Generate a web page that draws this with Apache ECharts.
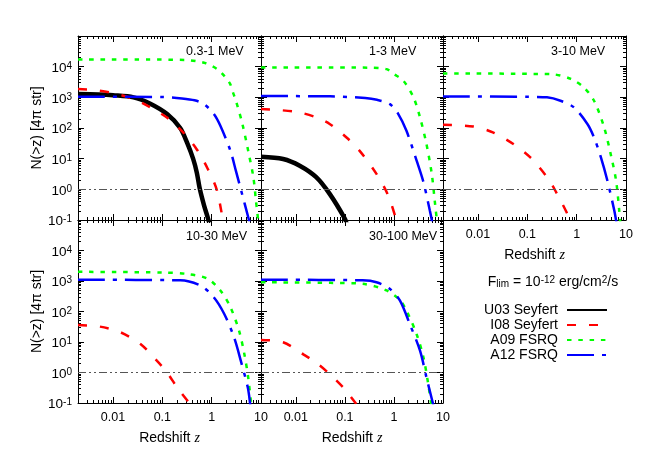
<!DOCTYPE html>
<html><head><meta charset="utf-8">
<script src="https://cdn.jsdelivr.net/npm/echarts@6/dist/echarts.min.js"></script>
<style>html,body{margin:0;padding:0;background:#fff}#c{width:654px;height:458px}</style>
</head><body><div id="c"></div>
<script>
// ---------- data ----------
const panelNames = ['0.3-1 MeV', '1-3 MeV', '3-10 MeV', '10-30 MeV', '30-100 MeV'];
const seriesNames = ['U03 Seyfert', 'I08 Seyfert', 'A09 FSRQ', 'A12 FSRQ'];
const xTickLabels = [0.01, 0.1, 1, 10];
const yTickLabels = [0.1, 1, 10, 100, 1000, 10000];

// [redshift z, N(>z)]
const u03_p1 = [[0.00195,1280],[0.005,1240],[0.01,1170],[0.026,1000],[0.057,620],[0.125,285],[0.23,100],[0.32,32],[0.42,10],[0.5,3.5],[0.57,1.1],[0.7,0.3],[0.86,0.1],[0.92,0.06]];
const i08_p1 = [[0.00195,1860],[0.004,1740],[0.0087,1445],[0.026,890],[0.056,480],[0.126,214],[0.25,79],[0.5,20],[0.83,4.7],[1.26,1],[1.7,0.1],[1.85,0.06]];
const a09_p1 = [[0.00195,17000],[0.05,17000],[0.3,16500],[0.5,15000],[0.75,13000],[1.3,8300],[1.8,5000],[2.35,2800],[2.7,1450],[3.1,780],[4.2,135],[5.5,18],[7.0,2.5],[7.9,0.43],[9.0,0.07]];
const a12_p1 = [[0.00195,1050],[0.1,1020],[0.25,920],[0.45,800],[0.7,600],[1.1,290],[1.5,118],[2.4,18],[3.1,4],[3.9,1],[5.7,0.1],[6.0,0.07]];

const u03_p2 = [[0.00195,11.6],[0.0055,9.8],[0.012,5.9],[0.026,2.5],[0.049,0.71],[0.1,0.11],[0.11,0.07]];
const i08_p2 = [[0.00195,415],[0.005,380],[0.012,320],[0.026,222],[0.049,135],[0.108,49],[0.2,18],[0.44,3.2],[0.74,0.71],[1.1,0.11],[1.17,0.07]];
const a09_p2 = [[0.00195,9400],[0.3,9300],[0.71,8300],[1.0,5700],[1.55,3500],[2.5,1000],[3.4,222],[4.6,30],[5.9,3.2],[6.9,0.33],[7.5,0.1],[7.8,0.06]];
const a12_p2 = [[0.00195,1100],[0.05,1080],[0.26,950],[0.45,830],[0.83,600],[1.22,290],[1.8,81],[2.9,8.6],[4.0,1.7],[5.4,0.2],[5.9,0.1],[6.1,0.06]];

const i08_p3 = [[0.00195,128],[0.008,112],[0.02,72],[0.052,30],[0.115,11],[0.25,2.5],[0.37,0.9],[0.7,0.12],[0.75,0.07]];
const a09_p3 = [[0.00195,6000],[0.3,5700],[0.76,4000],[1.4,2100],[2.25,775],[3.6,105],[4.9,14],[6.3,1.9],[7.3,0.2],[7.7,0.07]];
const a12_p3 = [[0.00195,1070],[0.1,1040],[0.25,1000],[0.47,775],[0.88,470],[1.65,135],[2.25,49],[3.1,11],[4.2,1.9],[5.8,0.2],[6.5,0.07]];

const i08_p4 = [[0.00195,36],[0.0054,32],[0.014,21],[0.036,8.6],[0.078,2.4],[0.125,1],[0.2,0.32],[0.35,0.1],[0.4,0.07]];
const a09_p4 = [[0.00195,2000],[0.1,1900],[0.32,1700],[0.82,1200],[1.5,490],[2.4,138],[3.6,23],[4.6,4],[5.5,0.69],[6.3,0.1],[6.6,0.06]];
const a12_p4 = [[0.00195,1100],[0.23,1050],[0.6,700],[1.1,295],[1.8,83],[2.85,14],[3.9,2.4],[5.4,0.32],[6.0,0.1],[6.2,0.06]];

const i08_p5 = [[0.00195,11.7],[0.0055,9.8],[0.014,4],[0.026,2.1],[0.049,0.89],[0.093,0.32],[0.165,0.1],[0.19,0.07]];
const a09_p5 = [[0.00195,910],[0.05,870],[0.23,810],[0.71,490],[1.32,240],[1.8,107],[2.9,18],[4.0,3.1],[5.0,0.42],[5.7,0.1],[6.0,0.06]];
const a12_p5 = [[0.00195,1100],[0.23,1050],[0.44,910],[0.83,550],[1.32,230],[2.1,39],[3.4,5.2],[4.6,0.69],[6.2,0.1],[6.5,0.07]];

const limitLevel = 1;

// ---------- layout / style ----------
const FONT = 'Liberation Sans, Arial, sans-serif';
const X_MIN = 0.00195, X_MAX = 10.0001, Y_MIN = 0.09999, Y_MAX = 100010;
const grids = [
  {left: 78,  top: 36,  width: 183, height: 184},
  {left: 261, top: 36,  width: 182, height: 184},
  {left: 443, top: 36,  width: 183, height: 184},
  {left: 78,  top: 220, width: 183, height: 183},
  {left: 261, top: 220, width: 182, height: 183}
];
const panels = [
  [u03_p1, i08_p1, a09_p1, a12_p1],
  [u03_p2, i08_p2, a09_p2, a12_p2],
  [null,   i08_p3, a09_p3, a12_p3],
  [null,   i08_p4, a09_p4, a12_p4],
  [null,   i08_p5, a09_p5, a12_p5]
];
const styles = [
  {color: '#000000', width: 4.5, type: 'solid'},
  {color: '#ff0000', width: 2.5, type: [9, 13]},
  {color: '#00ff00', width: 2.5, type: [4.5, 6.8]},
  {color: '#0000ff', width: 2.5, type: [27, 8, 4, 8]}
];
const showXLabels = [false, false, true, true, true];
const showYLabels = [true, false, false, true, false];

function decadeTicks(lo, hi, minor) {
  const out = [];
  for (let e = -4; e <= 6; e++) {
    const ks = minor ? [2,3,4,5,6,7,8,9] : [1];
    for (const k of ks) {
      const v = +(k * Math.pow(10, e)).toPrecision(4);
      if (v >= lo && v <= hi) out.push(v);
    }
  }
  return out;
}
const xMajor = decadeTicks(X_MIN, X_MAX, false);
const xMinor = decadeTicks(X_MIN, X_MAX, true);
const yMajor = decadeTicks(Y_MIN, Y_MAX, false);
const yMinor = decadeTicks(Y_MIN, Y_MAX, true);

const xAxes = [], yAxes = [];
function axisBase(gi, pos, ticks, len, showLine) {
  return {
    type: 'log', logBase: 10, gridIndex: gi, position: pos,
    axisLine: {show: showLine, onZero: false, lineStyle: {color: '#000', width: 1}},
    axisTick: {show: true, inside: true, length: len, customValues: ticks, lineStyle: {color: '#000', width: 1}},
    axisLabel: {show: false},
    splitLine: {show: false}, minorTick: {show: false}, minorSplitLine: {show: false},
    silent: true
  };
}
grids.forEach((g, gi) => {
  ['bottom', 'top'].forEach((pos) => {
    [[xMajor, 6, true], [xMinor, 3, false]].forEach(([t, len, line], k) => {
      const a = axisBase(gi, pos, t, len, line);
      a.min = X_MIN; a.max = X_MAX;
      if (pos === 'bottom' && k === 0 && showXLabels[gi]) {
        a.axisLabel = {show: true, customValues: xTickLabels, formatter: v => String(v),
          margin: 8, fontSize: 12.5, color: '#000', fontFamily: FONT};
        a.name = '{a|Redshift }{z|z}';
        a.nameLocation = 'middle';
        a.nameGap = 28;
        a.nameTextStyle = {color: '#000', rich: {
          a: {fontSize: 14, fontFamily: FONT, color: '#000'},
          z: {fontSize: 14, fontFamily: 'Liberation Serif, Times New Roman, serif', fontStyle: 'italic', color: '#000'}
        }};
      }
      xAxes.push(a);
    });
  });
  ['left', 'right'].forEach((pos) => {
    [[yMajor, 6, true], [yMinor, 3, false]].forEach(([t, len, line], k) => {
      const a = axisBase(gi, pos, t, len, line);
      a.min = Y_MIN; a.max = Y_MAX;
      if (pos === 'left' && k === 0 && showYLabels[gi]) {
        a.axisLabel = {show: true, customValues: yTickLabels, margin: 6, padding: [3, 0, 0, 0],
          formatter: v => '{b|10}{s|' + Math.round(Math.log10(v)) + '}',
          rich: {
            b: {fontSize: 13.5, lineHeight: 14, verticalAlign: 'bottom', fontFamily: FONT, color: '#000'},
            s: {fontSize: 10, lineHeight: 10, verticalAlign: 'top', padding: [0, 0, 8, 0], fontFamily: FONT, color: '#000'}
          }};
        a.name = 'N(>z) [4\u03c0 str]';
        a.nameLocation = 'middle';
        a.nameRotate = 90;
        a.nameGap = 34;
        a.nameTextStyle = {fontSize: 14, fontFamily: FONT, color: '#000'};
      }
      yAxes.push(a);
    });
  });
});

const series = [];
panels.forEach((sets, gi) => {
  sets.forEach((d, si) => {
    if (!d) return;
    const st = styles[si];
    const s = {
      type: 'line', name: seriesNames[si], data: d,
      xAxisIndex: gi * 4, yAxisIndex: gi * 4,
      symbol: 'none', showSymbol: false, smooth: 0.3,
      clip: true, silent: true,
      lineStyle: {color: st.color, width: st.width, type: st.type, cap: 'butt'},
      itemStyle: {color: st.color},
      z: 2 + si
    };
    if (si === 3) {
      s.markLine = {symbol: 'none', silent: true, label: {show: false},
        lineStyle: {color: '#555', width: 1, type: [8, 3, 2, 3, 2, 3]},
        data: [{yAxis: limitLevel}], animation: false};
    }
    series.push(s);
  });
});

const graphic = [];
const labelY = [51.7, 51.7, 51.7, 237, 237];
grids.forEach((g, gi) => {
  graphic.push({type: 'text', x: g.left + 108, y: labelY[gi], silent: true,
    style: {text: panelNames[gi], fontSize: 12.5, fontFamily: FONT, fill: '#000', align: 'left', verticalAlign: 'middle'}});
});
graphic.push({type: 'text', x: 553, y: 282, silent: true,
  style: {text: '{a|F}{sub|lim}{a| = 10}{sup|-12}{a| erg/cm}{sup|2}{a|/s}', align: 'center', verticalAlign: 'middle',
    rich: {
      a: {fontSize: 14, lineHeight: 14, padding: [4, 0, 4, 0], fontFamily: FONT, fill: '#000'},
      sup: {fontSize: 10, lineHeight: 10, verticalAlign: 'top', fontFamily: FONT, fill: '#000'},
      sub: {fontSize: 10, lineHeight: 10, verticalAlign: 'bottom', fontFamily: FONT, fill: '#000'}
    }}});

const chart = echarts.init(document.getElementById('c'), null, {renderer: 'canvas'});
chart.setOption({
  animation: false,
  backgroundColor: '#fff',
  grid: grids.map(g => Object.assign({containLabel: false, outerBoundsMode: 'none'}, g)),
  xAxis: xAxes,
  yAxis: yAxes,
  legend: {
    orient: 'vertical', right: 46, top: 302.5, padding: 0, itemGap: 0, align: 'right',
    itemWidth: 40, itemHeight: 10, selectedMode: false, data: seriesNames,
    itemStyle: {opacity: 0},
    textStyle: {fontSize: 14, fontFamily: FONT, color: '#000', lineHeight: 15, padding: [0, 4, 0, 0]}
  },
  tooltip: {show: false},
  graphic: graphic,
  series: series
});
</script>
</body></html>
